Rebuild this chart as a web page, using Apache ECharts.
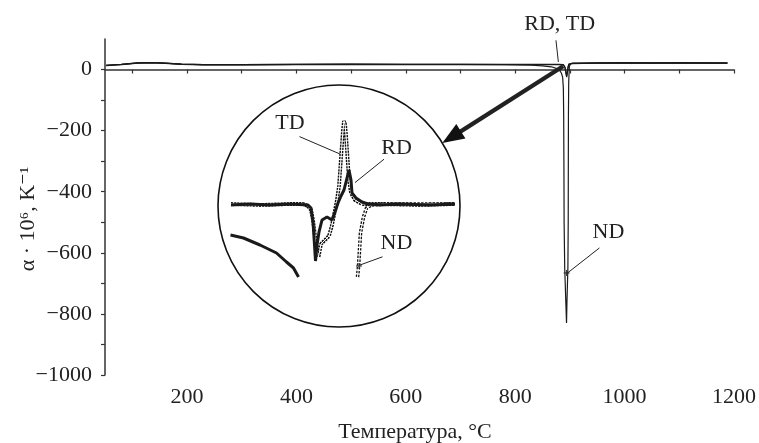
<!DOCTYPE html>
<html><head><meta charset="utf-8">
<script src="https://cdn.jsdelivr.net/npm/echarts@6/dist/echarts.min.js"></script>
<style>html,body{margin:0;padding:0;background:#fff}#c{width:759px;height:443px}</style>
</head><body><div id="c"></div>
<script>
// ---- main plot: temperature (°C) and α·10^6 (K^-1)
const ndT = [52, 80, 110, 135, 160, 190, 230, 300, 400, 500, 600, 700, 780, 830, 850, 866, 875, 881, 884.5, 886.7, 888, 888.6, 889, 889.4, 890.5, 892.5, 893.8, 894.6, 896.3, 896.9, 897.1, 897.3, 897.8, 899, 901, 950, 1000, 1050, 1100, 1150, 1188];
const ndA = [14, 17, 22, 23, 21, 18, 16, 16, 17, 17, 17, 17, 16, 14, 12, 9, 4, -2, -12, -25, -60, -150, -300, -500, -650, -760, -830, -760, -650, -500, -300, -150, -40, 10, 19, 21, 21, 22, 21, 22, 21];
const rdT = [52, 80, 110, 135, 160, 190, 230, 300, 400, 500, 600, 700, 780, 850, 880, 888, 891, 893, 894, 895, 896.5, 898, 905, 950, 1000, 1050, 1100, 1150, 1188];
const rdA = [14, 17, 22, 23, 21, 18, 16, 16, 17, 18, 17, 17, 17, 17, 17, 16, 8, -12, -25, -15, 5, 17, 20, 21, 22, 21, 22, 21, 21];
const tdT = rdT;
const tdA = [13, 16, 21, 22, 20, 17, 15, 15, 16, 17, 16, 16, 16, 16, 16, 15, 6, -14, -22, -10, 8, 18, 21, 22, 23, 22, 23, 22, 22];

// ---- inset: magnified region near the transition (arbitrary α units)
const insRdT = [869.2, 873, 877, 881, 884.6, 885.2, 885.6, 885.9, 886.1, 886.4, 886.8, 887.4, 888.4, 889.4, 890, 890.6, 891.2, 891.8, 892.4, 892.8, 893, 893.2, 893.4, 894.2, 895.4, 896.6, 899, 903, 909, 914];
const insRdA = [-0.5, 0, -0.5, 0, -0.5, -2, -9, -20.5, -28.5, -20.5, -14, -8, -6.5, -8, -4, 0.5, 4, 7, 13, 17, 18, 12, 5.5, 3, 1, 0, -0.5, 0, -0.5, 0];
const insTdT = [869.2, 875, 881, 883.6, 884.6, 885.2, 885.6, 886, 886.4, 886.7, 887.2, 888, 888.8, 889.4, 890, 890.4, 890.8, 891, 891.2, 891.4, 891.6, 891.8, 892, 892.2, 892.4, 892.6, 892.8, 893.2, 894, 895.4, 899, 907, 914];
const insTdA = [0, -0.5, 0, 0, -1, -3, -8, -16, -23, -26.5, -20, -18, -16, -10.5, -3, 2, 9, 16, 23, 30, 37, 41.5, 40, 34.5, 27, 19.5, 12, 5.5, 2, 0, 0, -0.5, 0];
const insNdLeftT = [869.1, 871.7, 875, 878.3, 880.3, 881.7, 882.7];
const insNdLeftA = [-15.5, -17, -20.5, -24.5, -29, -32, -36.5];
const insNdRightT = [894.5, 894.7, 894.9, 895.1, 895.7, 896.3, 897.3, 900, 907, 914];
const insNdRightA = [-36.5, -31.5, -23, -14.5, -6.5, -2, -0.5, 0, 0, 0];

// ---- ticks and labels
const xTicks = [100, 200, 300, 400, 500, 600, 700, 800, 900, 1000, 1100, 1200];
const xLabels = [200, 400, 600, 800, 1000, 1200];
const yTicks = [-1000, -900, -800, -700, -600, -500, -400, -300, -200, -100, 0];
const yLabels = [-1000, -800, -600, -400, -200, 0];

const zip = (t, a) => t.map((v, i) => [v, a[i]]);
const FONT = '"Liberation Serif","DejaVu Serif",serif';
const INK = '#1a1a1a';

const chart = echarts.init(document.getElementById('c'), null, {renderer: 'canvas'});

const axisCommon = {
  axisLine: {show: true, lineStyle: {color: '#333', width: 1.5}},
  axisTick: {show: true, inside: false, length: 4, lineStyle: {color: '#333', width: 1.2}},
  splitLine: {show: false},
  axisLabel: {color: '#222', fontFamily: FONT, fontSize: 22}
};

const mainLine = (data) => ({type: 'line', xAxisIndex: 0, yAxisIndex: 0, data, symbol: 'none', smooth: false,
  lineStyle: {color: INK, width: 1.2}, silent: true, animation: false});
const insLine = (data, w, extra) => Object.assign({type: 'line', xAxisIndex: 1, yAxisIndex: 1, data, symbol: 'none',
  lineStyle: Object.assign({color: INK, width: w}, extra || {}), silent: true, animation: false, clip: true});

chart.setOption({
  animation: false,
  grid: [
    {left: 105, right: 22, top: 39, bottom: 68},
    {left: 225, top: 110, width: 230, height: 168}
  ],
  xAxis: [
    Object.assign({}, axisCommon, {type: 'value', gridIndex: 0, min: 50, max: 1200,
      axisTick: Object.assign({}, axisCommon.axisTick, {customValues: xTicks}),
      axisLabel: Object.assign({}, axisCommon.axisLabel, {customValues: xLabels, margin: 11,
        formatter: v => String(v)})}),
    {type: 'value', gridIndex: 1, min: 868, max: 914, show: false}
  ],
  yAxis: [
    Object.assign({}, axisCommon, {type: 'value', gridIndex: 0, min: -1000, max: 100,
      axisTick: Object.assign({}, axisCommon.axisTick, {customValues: yTicks}),
      axisLabel: Object.assign({}, axisCommon.axisLabel, {customValues: yLabels, margin: 13,
        formatter: v => v < 0 ? '\u2212' + Math.abs(v) : String(v)})}),
    {type: 'value', gridIndex: 1, min: -37, max: 47, show: false}
  ],
  series: [
    mainLine(zip(ndT, ndA)),
    mainLine(zip(rdT, rdA)),
    mainLine(zip(tdT, tdA)),
    // inset TD: chain of hollow circles (dark dashed band with white core)
    insLine(zip(insTdT, insTdA), 3.8, {type: [2.2, 0.9], color: '#111'}),
    insLine(zip(insTdT, insTdA), 1.0, {color: '#fff'}),
    insLine(zip(insNdRightT, insNdRightA), 3.6, {type: [2.4, 1.4], color: '#111'}),
    insLine(zip(insNdRightT, insNdRightA), 1.0, {color: '#fff'}),
    // inset RD and ND (filled, thick)
    insLine(zip(insRdT, insRdA), 3),
    insLine(zip(insNdLeftT, insNdLeftA), 3)
  ]
});

// ---- annotations placed from data coordinates
const P0 = p => chart.convertToPixel({xAxisIndex: 0, yAxisIndex: 0}, p);
const P1 = p => chart.convertToPixel({xAxisIndex: 1, yAxisIndex: 1}, p);
const txt = (pt, s) => ({type: 'text', x: pt[0], y: pt[1], silent: true, z: 10,
  style: {text: s, font: '22px ' + FONT, fill: '#222', align: 'center', verticalAlign: 'middle',
    textAlign: 'center', textVerticalAlign: 'middle'}});
const seg = (a, b, w) => ({type: 'line', silent: true, z: 10,
  shape: {x1: a[0], y1: a[1], x2: b[0], y2: b[1]}, style: {stroke: '#222', lineWidth: w || 1}});
const plus = (c) => [seg([c[0] - 3, c[1]], [c[0] + 3, c[1]]), seg([c[0], c[1] - 3], [c[0], c[1] + 3])];

const g = [];
// main
g.push(txt(P0([881.3, 150]), 'RD, TD'));
g.push(seg(P0([874.5, 95.8]), P0([878.9, 24.8])));
g.push(txt(P0([970.4, -531.7]), 'ND'));
g.push(seg(P0([954, -584]), P0([895.8, -665.7])));
g.push(...plus(P0([894, -666])));
// arrow
const aS = P0([887.6, 10.8]), aE = P0([666.7, -240.8]);
const dx = aE[0] - aS[0], dy = aE[1] - aS[1], L = Math.hypot(dx, dy), ux = dx / L, uy = dy / L;
const headL = 22, headW = 8.5;
const base = [aE[0] - ux * headL, aE[1] - uy * headL];
g.push(seg(aS, [base[0] + ux * 2, base[1] + uy * 2], 4.2));
g.push({type: 'polygon', silent: true, z: 10, shape: {points: [aE,
  [base[0] - uy * headW, base[1] + ux * headW], [base[0] + uy * headW, base[1] - ux * headW]]},
  style: {fill: '#111'}});
// inset frame
g.push({type: 'circle', silent: true, z: 1, shape: {cx: 339, cy: 206, r: 121},
  style: {fill: 'none', stroke: '#111', lineWidth: 1.6}});
// inset labels
g.push(txt(P1([881, 40.5]), 'TD'));
g.push(seg(P1([882.9, 33.7]), P1([891, 25])));
g.push(txt(P1([902.3, 27.9]), 'RD'));
g.push(seg(P1([899.8, 22.4]), P1([894, 10.7])));
g.push(txt(P1([902.3, -19.7]), 'ND'));
g.push(seg(P1([899.5, -26.4]), P1([895, -30.5])));
g.push(...plus(P1([894.8, -31])));
// axis titles
g.push(txt([415, 432], 'Температура, °C'));
g.push(Object.assign(txt([28, 219], 'α · 10\u2076, K\u207B\u00B9'), {rotation: Math.PI / 2}));

chart.setOption({graphic: g});
</script>
</body></html>
